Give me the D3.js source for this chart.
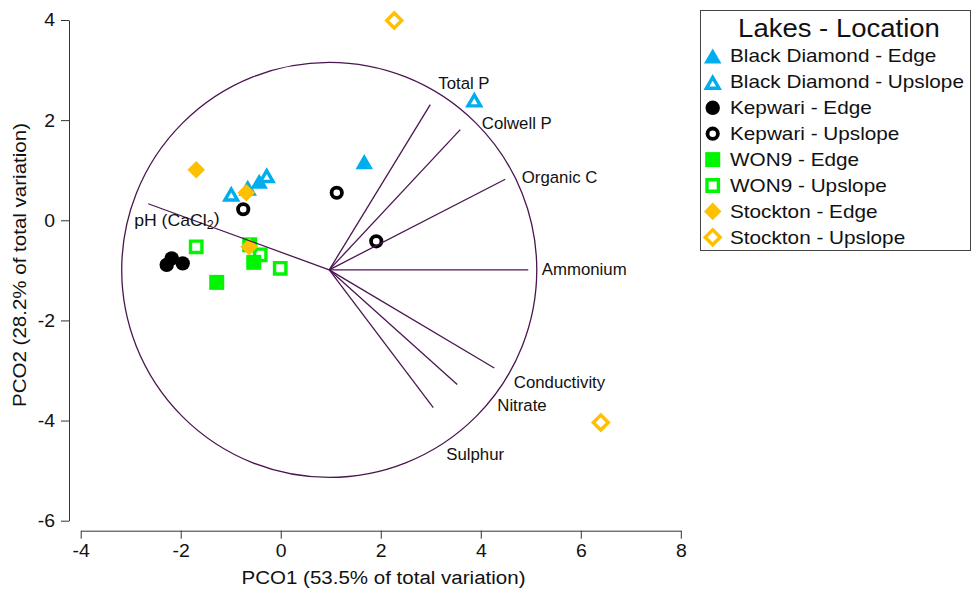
<!DOCTYPE html>
<html><head><meta charset="utf-8">
<script src="https://cdn.jsdelivr.net/npm/d3@7/dist/d3.min.js"></script>
<style>
body{margin:0;background:#fff}
svg{display:block}
text{font-family:"Liberation Sans",Arial,Helvetica,sans-serif;fill:#111}
</style>
</head><body>
<svg id="chart" width="973" height="590"></svg>
<script>
// ---------------- data ----------------
const groups = [
  "Black Diamond - Edge", "Black Diamond - Upslope",
  "Kepwari - Edge", "Kepwari - Upslope",
  "WON9 - Edge", "WON9 - Upslope",
  "Stockton - Edge", "Stockton - Upslope"
];
const pointGroup = [0,0, 1,1,1,1, 2,2,2, 3,3,3, 4,4,4, 5,5,5, 6,6,6, 7,7];
const pco1 = [1.67,-0.43, -0.99,-0.66,-0.28,3.87, -2.28,-2.18,-1.96, -0.75,1.12,1.91,
              -0.62,-0.54,-1.28, -1.69,-0.41,-0.01, -1.69,-0.69,-0.63, 2.27,6.40];
const pco2 = [1.17,0.78, 0.53,0.65,0.90,2.41, -0.89,-0.76,-0.86, 0.22,0.55,-0.42,
              -0.49,-0.84,-1.24, -0.53,-0.69,-0.96, 1.01,0.55,-0.53, 3.99,-4.04];

const xTicks = [-4,-2,0,2,4,6,8];
const yTicks = [-6,-4,-2,0,2,4];
const xTitle = "PCO1 (53.5% of total variation)";
const yTitle = "PCO2 (28.2% of total variation)";
const legendTitle = "Lakes - Location";

// vector overlay (data units)
const vecOrigin = [0.97, -0.99];
const circleRadius = 4.15;
const varNames = ["pH (CaCl2)", "Total P", "Colwell P", "Organic C", "Ammonium", "Conductivity", "Nitrate", "Sulphur"];
const vecEndX = [-2.65, 2.99, 3.59, 4.49, 4.95, 4.27, 3.53, 3.05];
const vecEndY = [ 0.33, 2.31, 1.81, 0.82, -0.99, -2.95, -3.28, -3.74];
const labelX  = [-2.93, 3.15, 4.02, 4.82, 5.22, 4.66, 4.33, 3.31];
const labelY  = [ 0.01, 2.74, 1.95, 0.87, -0.98, -3.23, -3.70, -4.67];

// ---------------- styles ----------------
const groupShape = ["triangle","triangle","circle","circle","square","square","diamond","diamond"];
const groupOpen  = [false,true,false,true,false,true,false,true];
const groupColor = ["#00aeef","#00aeef","#000000","#000000","#00f500","#00f500","#ffc000","#ffc000"];
const vecColor = "#4a1650";

const svg = d3.select("#chart");
const x = d3.scaleLinear().domain([-4, 8]).range([80.7, 680.8]);
const y = d3.scaleLinear().domain([-6, 4]).range([520.7, 20]);

function stretch(sel, f) {
  sel.each(function(){
    const L = this.getComputedTextLength();
    d3.select(this).attr("textLength", L * f).attr("lengthAdjust", "spacingAndGlyphs");
  });
}

function markerPath(shape, open) {
  const p = d3.path();
  if (shape === "triangle") {
    const S = open ? 18.5 : 17.5, H = S * Math.sqrt(3) / 2;
    let v = [[0, -H/2], [-S/2, H/2], [S/2, H/2]];
    if (open) {
      const cy = H/6, r = S / (2*Math.sqrt(3)), k = (r - 1.7) / r;
      v = v.map(([a,b]) => [a*k, cy + (b-cy)*k]);
    }
    p.moveTo(v[0][0], v[0][1]); p.lineTo(v[1][0], v[1][1]); p.lineTo(v[2][0], v[2][1]); p.closePath();
  } else if (shape === "circle") {
    const r = open ? 5.2 : 7.2;
    p.arc(0, 0, r, 0, 2*Math.PI);
  } else if (shape === "square") {
    const h = open ? 5.7 : 7.5;
    p.rect(-h, -h, 2*h, 2*h);
  } else {
    const h = open ? 7.5 : 8.8;
    p.moveTo(0,-h); p.lineTo(h,0); p.lineTo(0,h); p.lineTo(-h,0); p.closePath();
  }
  return p.toString();
}

function drawMarker(g, gi) {
  const open = groupOpen[gi];
  g.append("path")
    .attr("d", markerPath(groupShape[gi], open))
    .attr("fill", open ? "none" : groupColor[gi])
    .attr("stroke", open ? groupColor[gi] : "none")
    .attr("stroke-width", open ? (groupShape[gi] === "circle" ? 3.8 : 3.4) : 0);
}

// ---------------- axes ----------------
const xAxis = svg.append("g").attr("transform", "translate(0,530.7)")
  .call(d3.axisBottom(x).tickValues(xTicks).tickSize(8).tickPadding(5).tickSizeOuter(0).tickFormat(d3.format("d")));
const yAxis = svg.append("g").attr("transform", "translate(69,0)")
  .call(d3.axisLeft(y).tickValues(yTicks).tickSize(8).tickPadding(6).tickSizeOuter(0).tickFormat(d3.format("d")));
[xAxis, yAxis].forEach(a => {
  a.selectAll("path.domain").attr("stroke", "#333");
  a.selectAll(".tick line").attr("stroke", "#333");
  a.selectAll(".tick text").attr("font-size", 18.5).attr("font-family", null).attr("fill", "#111");
});
xAxis.selectAll(".tick text").text(d => d < 0 ? "-" + Math.abs(d) : d);
yAxis.selectAll(".tick text").text(d => d < 0 ? "-" + Math.abs(d) : d);
stretch(xAxis.selectAll(".tick text"), 1.05);
stretch(yAxis.selectAll(".tick text"), 1.05);

const xt = svg.append("text").attr("x", 383.5).attr("y", 578).attr("dy", "0.35em")
  .attr("text-anchor", "middle").attr("font-size", 18).text(xTitle);
stretch(xt, 1.14);
const yt = svg.append("text").attr("transform", "translate(20,265) rotate(-90)").attr("dy", "0.35em")
  .attr("text-anchor", "middle").attr("font-size", 18).text(yTitle);
stretch(yt, 1.14);

// ---------------- points ----------------
const pts = pco1.map((v, i) => ({x: v, y: pco2[i], g: pointGroup[i]}));
const pg = svg.append("g");
groups.forEach((name, gi) => {
  pts.filter(d => d.g === gi).forEach(d => {
    const m = pg.append("g").attr("transform", `translate(${x(d.x)},${y(d.y)})`);
    drawMarker(m, gi);
  });
});

// ---------------- vectors ----------------
const ox = x(vecOrigin[0]), oy = y(vecOrigin[1]);
const rPx = x(vecOrigin[0] + circleRadius) - ox;
const vg = svg.append("g");
vg.append("circle").attr("cx", ox).attr("cy", oy).attr("r", rPx)
  .attr("fill", "none").attr("stroke", vecColor).attr("stroke-width", 1.3);
varNames.forEach((n, i) => {
  vg.append("line").attr("x1", ox).attr("y1", oy).attr("x2", x(vecEndX[i])).attr("y2", y(vecEndY[i]))
    .attr("stroke", vecColor).attr("stroke-width", 1.3);
  const t = vg.append("text").attr("x", x(labelX[i])).attr("y", y(labelY[i])).attr("dy", "0.35em")
    .attr("font-size", 16.8);
  if (n.endsWith("2)")) {
    t.append("tspan").text(n.slice(0, n.length - 2));
    t.append("tspan").attr("font-size", 12).attr("dy", "0.3em").text("2");
    t.append("tspan").attr("dy", "-0.3em").text(")");
    t.attr("dy", null).attr("y", y(labelY[i]) + 5.8);
    stretch(t, 1.05);
  } else {
    t.text(n);
  }
});

// ---------------- legend ----------------
const lg = svg.append("g");
lg.append("rect").attr("x", 700.5).attr("y", 10.5).attr("width", 270).attr("height", 240)
  .attr("fill", "#fff").attr("stroke", "#444").attr("stroke-width", 1);
const lt = lg.append("text").attr("x", 839).attr("y", 28).attr("dy", "0.35em")
  .attr("text-anchor", "middle").attr("font-size", 25).text(legendTitle);
stretch(lt, 1.1);
groups.forEach((name, gi) => {
  const yy = 56 + gi * 25.9;
  const m = lg.append("g").attr("transform", `translate(712.7,${yy})`);
  drawMarker(m, gi);
  const t = lg.append("text").attr("x", 730).attr("y", yy).attr("dy", "0.35em")
    .attr("font-size", 18.2).text(name);
  stretch(t, 1.14);
});
</script>
</body></html>
